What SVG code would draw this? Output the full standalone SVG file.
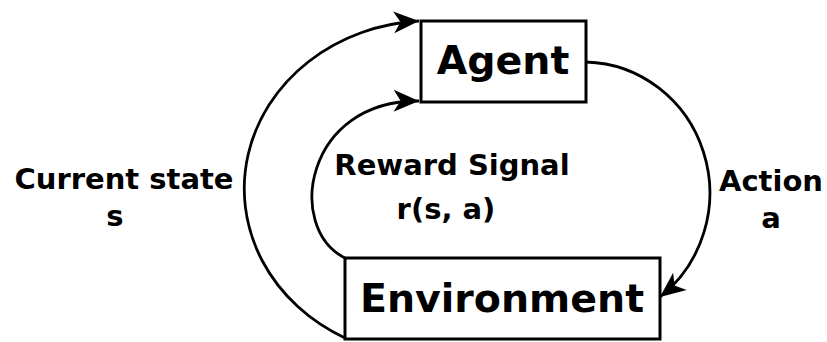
<svg xmlns="http://www.w3.org/2000/svg" width="827" height="342" viewBox="0 0 827 342">
<style>
  .box { fill: #ffffff; stroke: #000000; stroke-width: 3; }
  .title { font-family: "DejaVu Sans", Verdana, sans-serif; font-weight: bold; font-size: 39.5px; fill: #000000; text-anchor: middle; }
  .lbl { font-family: "DejaVu Sans", Verdana, sans-serif; font-weight: bold; font-size: 29px; fill: #000000; text-anchor: middle; }
  .edge { fill: none; stroke: #000000; stroke-width: 2.8; }
</style>
<defs>
  <marker id="ah" markerUnits="userSpaceOnUse" markerWidth="30" markerHeight="30" viewBox="-24 -12 26 24" refX="0" refY="0" orient="auto">
    <path d="M0,0 L-22,-9.5 L-16,0 L-22,9.5 Z" fill="#000000"/>
  </marker>
</defs>
<rect width="827" height="342" fill="#ffffff"/>
<g id="connectors">
  <path class="edge" d="M345,338 A186,168 0 0 1 419,21" marker-end="url(#ah)"/>
  <path class="edge" d="M345,258 C285,228 305,100 419,101" marker-end="url(#ah)"/>
  <path class="edge" d="M586,62 A127,131 0 0 1 660,297" marker-end="url(#ah)"/>
</g>
<g id="agent">
  <rect class="box" x="421" y="21" width="165" height="81"/>
  <text class="title" x="503" y="74">Agent</text>
</g>
<g id="environment">
  <rect class="box" x="345" y="258" width="315" height="81"/>
  <text class="title" x="502" y="312">Environment</text>
</g>
<g id="label-state">
  <text class="lbl" x="124" y="189">Current state</text>
  <text class="lbl" x="115" y="226">s</text>
</g>
<g id="label-reward">
  <text class="lbl" x="452" y="175">Reward Signal</text>
  <text class="lbl" x="446" y="219">r(s, a)</text>
</g>
<g id="label-action">
  <text class="lbl" x="771" y="191">Action</text>
  <text class="lbl" x="771" y="228">a</text>
</g>
</svg>
